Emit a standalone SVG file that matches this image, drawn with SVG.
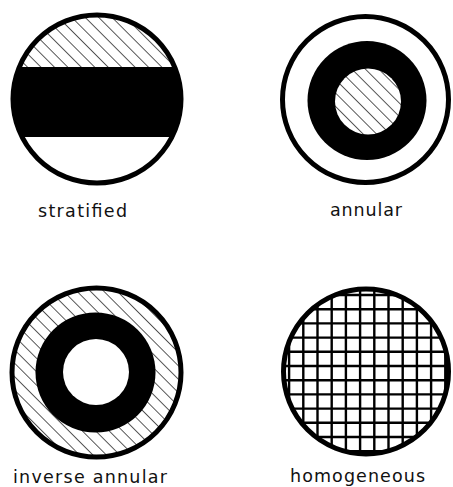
<svg xmlns="http://www.w3.org/2000/svg" width="453" height="487" viewBox="0 0 453 487">
<style>
.rim{fill:none;stroke:#000;stroke-width:5}
.lbl{font-family:"DejaVu Sans","Liberation Sans",sans-serif;font-size:17.5px;fill:#111}
.grid line{stroke:#000;stroke-width:2.4}
</style>
<defs>
<pattern id="hatch" patternUnits="userSpaceOnUse" width="9.5" height="9.5" patternTransform="rotate(-45)">
<rect width="9.5" height="9.5" fill="#fff"/>
<line x1="0" y1="0" x2="0" y2="9.5" stroke="#000" stroke-width="1.3"/>
</pattern>
<clipPath id="clipS"><circle cx="97" cy="99" r="84"/></clipPath>
<clipPath id="clipH"><circle cx="366" cy="371.5" r="82"/></clipPath>
</defs>
<rect width="453" height="487" fill="#fff"/>

<g id="stratified">
<g clip-path="url(#clipS)">
<rect x="0" y="0" width="200" height="67" fill="url(#hatch)"/>
<rect x="0" y="67" width="200" height="70" fill="#000"/>
<rect x="0" y="137" width="200" height="60" fill="#fff"/>
</g>
<circle class="rim" cx="97" cy="99" r="84"/>
<text class="lbl" x="38" y="216.5" textLength="89" lengthAdjust="spacing">stratified</text>
</g>

<g id="annular">
<circle class="rim" cx="365.5" cy="99.5" r="83" stroke-width="4.5"/>
<circle cx="367" cy="100.5" r="59.5" fill="#000"/>
<circle cx="368" cy="101.5" r="33" fill="url(#hatch)"/>
<text class="lbl" x="330" y="216" textLength="72" lengthAdjust="spacing">annular</text>
</g>

<g id="inverse-annular">
<circle cx="96.5" cy="372.5" r="84.5" fill="url(#hatch)"/>
<circle class="rim" cx="96.5" cy="372.5" r="84.5"/>
<circle cx="95.5" cy="372.5" r="60" fill="#000"/>
<circle cx="96" cy="372" r="33" fill="#fff"/>
<text class="lbl" x="13" y="483" textLength="154" lengthAdjust="spacing">inverse annular</text>
</g>

<g id="homogeneous">
<g class="grid" clip-path="url(#clipH)">
<line x1="289.1" y1="280" x2="289.1" y2="465"/>
<line x1="303.3" y1="280" x2="303.3" y2="465"/>
<line x1="317.5" y1="280" x2="317.5" y2="465"/>
<line x1="331.7" y1="280" x2="331.7" y2="465"/>
<line x1="345.9" y1="280" x2="345.9" y2="465"/>
<line x1="360.1" y1="280" x2="360.1" y2="465"/>
<line x1="374.3" y1="280" x2="374.3" y2="465"/>
<line x1="388.5" y1="280" x2="388.5" y2="465"/>
<line x1="402.7" y1="280" x2="402.7" y2="465"/>
<line x1="416.9" y1="280" x2="416.9" y2="465"/>
<line x1="431.1" y1="280" x2="431.1" y2="465"/>
<line x1="445.3" y1="280" x2="445.3" y2="465"/>
<line x1="275" y1="295" x2="455" y2="295"/>
<line x1="275" y1="309.2" x2="455" y2="309.2"/>
<line x1="275" y1="323.4" x2="455" y2="323.4"/>
<line x1="275" y1="337.6" x2="455" y2="337.6"/>
<line x1="275" y1="351.8" x2="455" y2="351.8"/>
<line x1="275" y1="366" x2="455" y2="366"/>
<line x1="275" y1="380.2" x2="455" y2="380.2"/>
<line x1="275" y1="394.4" x2="455" y2="394.4"/>
<line x1="275" y1="408.6" x2="455" y2="408.6"/>
<line x1="275" y1="422.8" x2="455" y2="422.8"/>
<line x1="275" y1="437" x2="455" y2="437"/>
<line x1="275" y1="451.2" x2="455" y2="451.2"/>
</g>
<circle class="rim" cx="366" cy="371.5" r="82.5" stroke-width="6"/>
<text class="lbl" x="290" y="482" textLength="135" lengthAdjust="spacing">homogeneous</text>
</g>
</svg>
